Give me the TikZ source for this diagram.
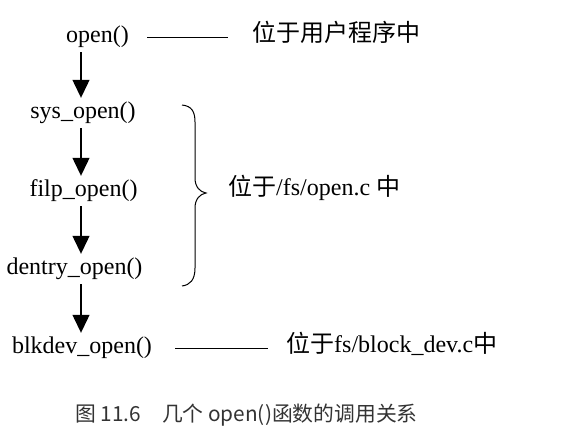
\documentclass[tikz,border=0pt]{standalone}
\usepackage{fontspec}
\setmainfont{Liberation Serif}
\newfontfamily\cjk{Noto Sans CJK SC}
\usetikzlibrary{arrows.meta}
\begin{document}
\begin{tikzpicture}[x=1pt,y=-1pt,
  fn/.style={inner xsep=0pt, inner ysep=4pt, text height=17pt, text depth=5pt, font=\fontsize{24}{26}\selectfont},
  lab/.style={anchor=west, inner sep=0pt, text height=17pt, text depth=5pt, font=\fontsize{24}{26}\selectfont},
  callarrow/.style={line width=1.3pt, -{Triangle[width=17pt,length=18pt]}},
  rule/.style={line width=0.9pt}]
\useasboundingbox (0,0) rectangle (566,433);
\coordinate (ax) at (81,0);
\node[fn] (open) at (97.5,37) {open()};
\node[fn] (sys) at (83,113) {sys\_open()};
\node[fn] (filp) at (83.5,191) {filp\_open()};
\node[fn] (dentry) at (74.5,269) {dentry\_open()};
\node[fn] (blk) at (82,348) {blkdev\_open()};
\node[lab] (l1) at (252,36) {\cjk 位于用户程序中};
\node[lab] (l2) at (228,190) {{\cjk 位于}/fs/open.c {\cjk 中}};
\node[lab] (l3) at (286,347) {{\cjk 位于}fs/block\_dev.c{\cjk 中}};
\draw[callarrow] (open.south -| ax) -- (sys.north -| ax);
\draw[callarrow] (sys.south -| ax) -- (filp.north -| ax);
\draw[callarrow] (filp.south -| ax) -- (dentry.north -| ax);
\draw[callarrow] (dentry.south -| ax) -- (blk.north -| ax);
\draw[rule, shorten <=18pt, shorten >=24pt] (open.east) -- (open.east -| l1.west);
\draw[rule, shorten <=23pt, shorten >=18pt] (blk.east) -- (blk.east -| l3.west);
\draw[line width=1pt] (182,105) .. controls (192,106) and (195,112) .. (195,122)
  -- (195,178) .. controls (195,187) and (200,192) .. (206,193)
  .. controls (200,194) and (195,199) .. (195,208)
  -- (195,268) .. controls (195,280) and (190,285) .. (182,286);
\node[inner sep=0pt, text=black!80, font=\cjk\fontsize{20.8}{22}\selectfont] (cap) at (246.5,415) {图 11.6　几个 open()函数的调用关系};
\end{tikzpicture}
\end{document}
